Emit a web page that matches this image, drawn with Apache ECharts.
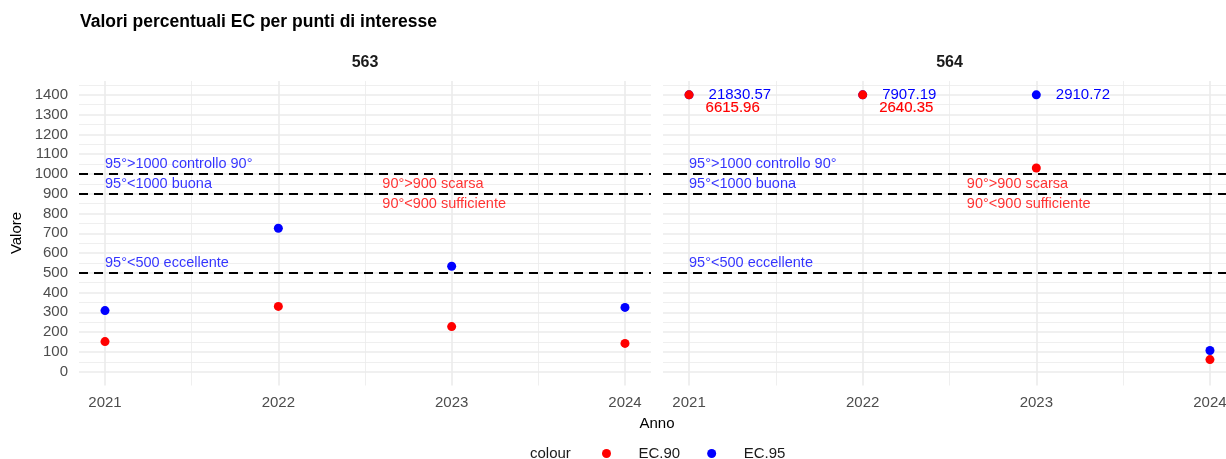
<!DOCTYPE html>
<html>
<head>
<meta charset="utf-8">
<script src="https://cdn.jsdelivr.net/npm/echarts@6/dist/echarts.min.js"></script>
<style>
html,body{margin:0;padding:0;background:#fff;}
#chart{width:1226px;height:459px;}
</style>
</head>
<body>
<div id="chart"></div>
<script>
// ---- data ----
const years = [2021, 2022, 2023, 2024];
const panels = ['563', '564'];
const ec90_563 = [152, 330, 228, 143];
const ec95_563 = [309, 725, 533, 325];
const ec90_564 = [6615.96, 2640.35, 1030, 61];
const ec95_564 = [21830.57, 7907.19, 2910.72, 107];
const yCap = 1400;
const thresholds = [500, 900, 1000];
const yTickLabels = [0, 100, 200, 300, 400, 500, 600, 700, 800, 900, 1000, 1100, 1200, 1300, 1400];
const yMinorTicks = [50, 150, 250, 350, 450, 550, 650, 750, 850, 950, 1050, 1150, 1250, 1350, 1450];
const xMinorTicks = [2021.5, 2022.5, 2023.5];
const noteBlueText = ['95°>1000 controllo 90°', '95°<1000 buona', '95°<500 eccellente'];
const noteBlueX = [2021, 2021, 2021];
const noteBlueY = [1050, 950, 550];
const noteRedText = ['90°>900 scarsa', '90°<900 sufficiente'];
const noteRedX = [2022.6, 2022.6];
const noteRedY = [950, 850];

const RED = '#ff0000', BLUE = '#0000ff', GRID = '#ebebeb';
const FONT = '"Liberation Sans", Arial, sans-serif';

const chart = echarts.init(document.getElementById('chart'), null, {renderer: 'canvas'});

const grids = [
  {left: 79, top: 81, width: 572, height: 304.5},
  {left: 663, top: 81, width: 573, height: 304.5}
];

const xAxes = [], yAxes = [];
grids.forEach((g, i) => {
  xAxes.push({
    type: 'value', gridIndex: i, min: 2020.85, max: 2024.15,
    axisLine: {show: false},
    axisTick: {show: false, customValues: years},
    axisLabel: {customValues: years, color: '#4d4d4d', fontSize: 15, fontFamily: FONT, margin: 10, formatter: v => String(v)},
    splitLine: {show: true, lineStyle: {color: GRID, width: 1.6}}
  });
  xAxes.push({
    type: 'value', gridIndex: i, min: 2020.85, max: 2024.15,
    axisLine: {show: false},
    axisTick: {show: false, customValues: xMinorTicks},
    axisLabel: {show: false, customValues: xMinorTicks},
    splitLine: {show: true, lineStyle: {color: GRID, width: 0.8}}
  });
  yAxes.push({
    type: 'value', gridIndex: i, min: -70, max: 1470,
    axisLine: {show: false},
    axisTick: {show: false, customValues: yTickLabels},
    axisLabel: {show: i === 0, customValues: yTickLabels, color: '#4d4d4d', fontSize: 15, fontFamily: FONT, margin: 11, formatter: v => String(v)},
    splitLine: {show: true, lineStyle: {color: GRID, width: 1.6}}
  });
  yAxes.push({
    type: 'value', gridIndex: i, min: -70, max: 1470,
    axisLine: {show: false},
    axisTick: {show: false, customValues: yMinorTicks},
    axisLabel: {show: false, customValues: yMinorTicks},
    splitLine: {show: true, lineStyle: {color: GRID, width: 0.8}}
  });
});

function pts(vals) {
  return years.map((y, k) => [y, Math.min(vals[k], yCap), vals[k]]);
}

function pointSeries(name, vals, gi, color, dist, labelOffset) {
  return {
    name: name, type: 'scatter', xAxisIndex: gi * 2, yAxisIndex: gi * 2,
    data: pts(vals), symbolSize: 9, itemStyle: {color: color, opacity: 1},
    z: name === 'EC.90' ? 4 : 3,
    label: {
      show: true, position: 'right', distance: dist, offset: labelOffset,
      color: color, fontSize: 15, fontFamily: FONT,
      textBorderColor: name === 'EC.90' ? color : 'transparent',
      textBorderWidth: name === 'EC.90' ? 0.15 : 0,
      formatter: p => (p.value[2] > yCap ? p.value[2].toFixed(2) : '')
    },
    emphasis: {disabled: true}
  };
}

function noteSeries(texts, xs, ys, gi, color) {
  return {
    type: 'scatter', xAxisIndex: gi * 2, yAxisIndex: gi * 2,
    data: texts.map((t, k) => ({value: [xs[k], ys[k]], name: t})),
    symbolSize: 0, silent: true, z: 5,
    label: {show: true, position: 'right', distance: 0, color: color, fontSize: 14.5, fontFamily: FONT,
      formatter: p => p.name},
    emphasis: {disabled: true}
  };
}

function lineSeries(gi) {
  return {
    type: 'line', xAxisIndex: gi * 2, yAxisIndex: gi * 2, data: [], silent: true,
    markLine: {
      silent: true, symbol: 'none', label: {show: false},
      lineStyle: {color: '#000', type: [9, 6], width: 2, cap: 'butt'},
      emphasis: {disabled: true},
      data: thresholds.map(t => ({yAxis: t}))
    }
  };
}

const series = [];
const sets = [[ec90_563, ec95_563], [ec90_564, ec95_564]];
[0, 1].forEach(gi => {
  series.push(lineSeries(gi));
  series.push(noteSeries(noteBlueText, noteBlueX, noteBlueY, gi, BLUE));
  series.push(noteSeries(noteRedText, noteRedX, noteRedY, gi, RED));
  series.push(pointSeries('EC.95', sets[gi][1], gi, BLUE, 15, [0, 0]));
  series.push(pointSeries('EC.90', sets[gi][0], gi, RED, 12, [0, 13]));
});

const option = {
  animation: false,
  backgroundColor: '#ffffff',
  textStyle: {fontFamily: FONT},
  grid: grids.map(g => Object.assign({outerBoundsMode: 'none', containLabel: false}, g)),
  xAxis: xAxes,
  yAxis: yAxes,
  legend: {
    data: ['EC.90', 'EC.95'], left: 602, top: 446, orient: 'horizontal', padding: 0,
    icon: 'circle', itemWidth: 30, itemHeight: 9, itemGap: 27,
    textStyle: {fontSize: 15, color: '#1a1a1a', fontFamily: FONT, padding: [0, 0, 0, 12]},
    selectedMode: false
  },
  graphic: [
    {type: 'text', left: 80, top: 13, style: {text: 'Valori percentuali EC per punti di interesse', font: 'bold 17.5px ' + FONT, fill: '#000'}},
    {type: 'text', x: 365, y: 63, style: {text: panels[0], font: 'bold 16px ' + FONT, fill: '#1a1a1a', align: 'center', verticalAlign: 'middle'}},
    {type: 'text', x: 949.5, y: 63, style: {text: panels[1], font: 'bold 16px ' + FONT, fill: '#1a1a1a', align: 'center', verticalAlign: 'middle'}},
    {type: 'text', x: 17, y: 233, rotation: Math.PI / 2, style: {text: 'Valore', font: '15px ' + FONT, fill: '#000', align: 'center', verticalAlign: 'middle'}},
    {type: 'text', x: 657, y: 424, style: {text: 'Anno', font: '15px ' + FONT, fill: '#000', align: 'center', verticalAlign: 'middle'}},
    {type: 'text', x: 530, y: 454, style: {text: 'colour', font: '15px ' + FONT, fill: '#1a1a1a', align: 'left', verticalAlign: 'middle'}}
  ],
  series: series
};
chart.setOption(option);
</script>
</body>
</html>
